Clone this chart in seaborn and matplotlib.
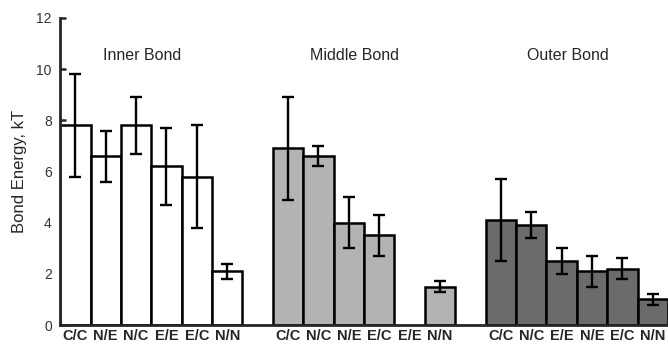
import numpy as np
import pandas as pd
import matplotlib
matplotlib.use("Agg")
import matplotlib.pyplot as plt
import seaborn as sns

# valeurs (kT)
groups = ["Inner Bond", "Middle Bond", "Outer Bond"]

inner_labels = ["C/C", "N/E", "N/C", "E/E", "E/C", "N/N"]
inner_vals = [7.8, 6.6, 7.8, 6.2, 5.8, 2.1]
inner_err = [2.0, 1.0, 1.1, 1.5, 2.0, 0.3]

middle_labels = ["C/C", "N/C", "N/E", "E/C", "E/E", "N/N"]
middle_vals = [6.9, 6.6, 4.0, 3.5, np.nan, 1.5]
middle_err = [2.0, 0.4, 1.0, 0.8, np.nan, 0.2]

outer_labels = ["C/C", "N/C", "E/E", "N/E", "E/C", "N/N"]
outer_vals = [4.1, 3.9, 2.5, 2.1, 2.2, 1.0]
outer_err = [1.6, 0.5, 0.5, 0.6, 0.4, 0.2]

colors = {"Inner Bond": "#ffffff", "Middle Bond": "#b3b3b3", "Outer Bond": "#6b6b6b"}

# tableau long : une case vide entre chaque groupe
rows = []
for g, (labs, vals, errs) in enumerate([(inner_labels, inner_vals, inner_err),
                                        (middle_labels, middle_vals, middle_err),
                                        (outer_labels, outer_vals, outer_err)]):
    for i, (lab, v, e) in enumerate(zip(labs, vals, errs)):
        rows.append({"pos": g * 7 + i, "label": lab, "value": v, "err": e, "group": groups[g]})
df = pd.DataFrame(rows)

sns.set_style("ticks")
plt.rcParams["font.family"] = ["Liberation Sans", "DejaVu Sans"]

fig = plt.figure(figsize=(6.68, 3.47), dpi=100)
ax = fig.add_axes([0.09, 0.0634, 0.91, 0.885])

sns.barplot(data=df.dropna(), x="pos", y="value", hue="group", palette=colors,
            native_scale=True, width=1.0, edgecolor="black", linewidth=1.8,
            legend=False, ax=ax, errorbar=None)

ok = df.dropna()
ax.errorbar(ok["pos"], ok["value"], yerr=ok["err"], fmt="none", ecolor="black",
            elinewidth=1.7, capsize=4, capthick=1.7)

ax.set_xlim(-0.5, 19.5)
ax.set_ylim(0, 12)
ax.set_yticks([0, 2, 4, 6, 8, 10, 12])
ax.tick_params(axis="y", direction="in", length=4, width=1.8, labelsize=10,
               labelcolor="#333333", pad=6)
ax.set_xticks(df["pos"])
ax.set_xticklabels(df["label"], fontweight="bold", fontsize=10.5)
ax.tick_params(axis="x", length=0, pad=3)
ax.set_xlabel("")
ax.set_ylabel("Bond Energy, kT", fontsize=12, labelpad=7)

for g, name in enumerate(groups):
    ax.text(g * 7 + 2.2, 10.55, name, ha="center", va="center", fontsize=11.5)

sns.despine(ax=ax)
for s in ["left", "bottom"]:
    ax.spines[s].set_linewidth(2)

fig.savefig("out.png", dpi=100)
